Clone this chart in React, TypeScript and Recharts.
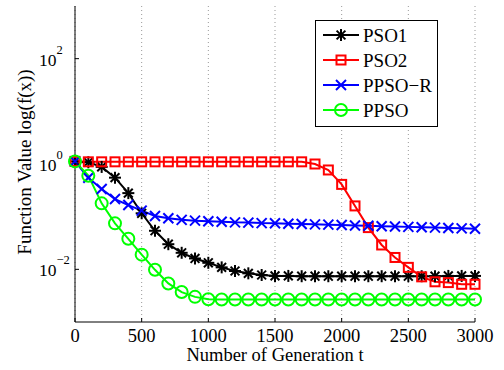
import { LineChart, Line, XAxis, YAxis, CartesianGrid, Legend } from "recharts";

const SERIF = "Liberation Serif, Times New Roman, serif";

// generations (x)
const GENS = [
  0, 100, 200, 300, 400, 500, 600, 700, 800, 900, 1000, 1100, 1200, 1300, 1400, 1500,
  1600, 1700, 1800, 1900, 2000, 2100, 2200, 2300, 2400, 2500, 2600, 2700, 2800, 2900, 3000,
];

const PSO1 = [
  1.12, 1.08, 0.88, 0.55, 0.28, 0.116, 0.054, 0.03, 0.0206, 0.0161, 0.0133, 0.0109, 0.0093,
  0.0084, 0.0078, 0.0075, 0.0075, 0.0074, 0.0074, 0.0074, 0.0074, 0.0074, 0.0074, 0.0074,
  0.0074, 0.0074, 0.0074, 0.0074, 0.0075, 0.0075, 0.0075,
];

const PSO2 = [
  1.12, 1.1, 1.1, 1.1, 1.1, 1.1, 1.1, 1.1, 1.1, 1.1, 1.1, 1.1, 1.1, 1.1, 1.1, 1.1, 1.1, 1.1,
  1.0, 0.77, 0.41, 0.16, 0.062, 0.029, 0.0168, 0.0109, 0.0072, 0.0058, 0.0056, 0.0052, 0.0052,
];

const PPSO_R = [
  1.12, 0.55, 0.335, 0.216, 0.166, 0.13, 0.103, 0.093, 0.087, 0.084, 0.082, 0.08, 0.078,
  0.0772, 0.0755, 0.0748, 0.0735, 0.0725, 0.0715, 0.0705, 0.0695, 0.068, 0.067, 0.066, 0.065,
  0.064, 0.063, 0.062, 0.061, 0.06, 0.059,
];

const PPSO = [
  1.12, 0.6, 0.179, 0.0746, 0.038, 0.019, 0.0098, 0.0054, 0.0037, 0.003, 0.0027, 0.00268,
  0.00268, 0.00268, 0.00268, 0.00268, 0.00268, 0.00268, 0.00268, 0.00268, 0.00268, 0.00268,
  0.00268, 0.00268, 0.00268, 0.00268, 0.00268, 0.00268, 0.00268, 0.00268, 0.00268,
];

const X_TICKS = [0, 500, 1000, 1500, 2000, 2500, 3000];
const Y_TICKS = [0.01, 1, 100];
const Y_DOMAIN = [0.001, 1000];

const data = GENS.map((g, i) => ({
  gen: g,
  pso1: PSO1[i],
  pso2: PSO2[i],
  ppsor: PPSO_R[i],
  ppso: PPSO[i],
}));

type Marker = "star" | "square" | "cross" | "circle";

const SERIES: { key: string; name: string; color: string; marker: Marker }[] = [
  { key: "pso1", name: "PSO1", color: "#000000", marker: "star" },
  { key: "pso2", name: "PSO2", color: "#ff0000", marker: "square" },
  { key: "ppsor", name: "PPSO\u2212R", color: "#0000ff", marker: "cross" },
  { key: "ppso", name: "PPSO", color: "#00ff00", marker: "circle" },
];

// plot box edges
const LEFT = 75;
const BOTTOM = 322;

function drawMarker(kind: Marker, cx: number, cy: number, color: string) {
  const sw = 2;
  if (kind === "star") {
    const a = 6, d = 4.4;
    return (
      <g stroke={color} strokeWidth={sw}>
        <line x1={cx - a} y1={cy} x2={cx + a} y2={cy} />
        <line x1={cx} y1={cy - a} x2={cx} y2={cy + a} />
        <line x1={cx - d} y1={cy - d} x2={cx + d} y2={cy + d} />
        <line x1={cx - d} y1={cy + d} x2={cx + d} y2={cy - d} />
      </g>
    );
  }
  if (kind === "square") {
    return <rect x={cx - 4.5} y={cy - 4.5} width={9} height={9} fill="none" stroke={color} strokeWidth={sw} />;
  }
  if (kind === "cross") {
    const d = 5;
    return (
      <g stroke={color} strokeWidth={sw}>
        <line x1={cx - d} y1={cy - d} x2={cx + d} y2={cy + d} />
        <line x1={cx - d} y1={cy + d} x2={cx + d} y2={cy - d} />
      </g>
    );
  }
  return <circle cx={cx} cy={cy} r={6} fill="none" stroke={color} strokeWidth={sw} />;
}

function expLabel(v: number) {
  const e = Math.round(Math.log10(v));
  return e < 0 ? "\u2212" + Math.abs(e) : String(e);
}

function BottomTick({ x, payload }: any) {
  return (
    <g>
      <line x1={x} x2={x} y1={BOTTOM} y2={BOTTOM - 4} stroke="#000" />
      <text x={x} y={BOTTOM + 20} textAnchor="middle" fontSize={18.5} fontFamily={SERIF} fill="#000">
        {payload.value}
      </text>
    </g>
  );
}

function TopTick({ x, y }: any) {
  return <line x1={x} x2={x} y1={y} y2={y + 4} stroke="#000" />;
}

function LeftTick({ y, payload }: any) {
  return (
    <g>
      <line x1={LEFT} x2={LEFT + 4} y1={y} y2={y} stroke="#000" />
      <text x={39} y={y + 7} fontSize={17.5} fontFamily={SERIF} fill="#000">
        <tspan>10</tspan>
        <tspan dy={-12} fontSize={12.5}>{expLabel(payload.value)}</tspan>
      </text>
    </g>
  );
}

function RightTick({ x, y }: any) {
  return <line x1={x} x2={x - 4} y1={y} y2={y} stroke="#000" />;
}

function LegendBox() {
  const rows = [15, 40, 65, 90];
  return (
    <svg width={123} height={107} style={{ display: "block" }}>
      <rect x={0.5} y={0.5} width={122} height={106} fill="#fff" stroke="#000" strokeWidth={1} />
      {SERIES.map((s, i) => (
        <g key={s.key}>
          <line x1={8} x2={44} y1={rows[i]} y2={rows[i]} stroke={s.color} strokeWidth={2} />
          {drawMarker(s.marker, 26, rows[i], s.color)}
          <text x={48} y={rows[i] + 6.5} fontSize={19} fontFamily={SERIF} fill="#000">
            {s.name}
          </text>
        </g>
      ))}
    </svg>
  );
}

export default function App() {
  return (
    <div style={{ position: "absolute", left: 0, top: 0, width: 504, height: 370, background: "#fff", fontFamily: SERIF }}>
      <LineChart width={504} height={370} data={data} margin={{ top: 6, right: 29, bottom: 0, left: 0 }}>
        <CartesianGrid horizontal={false} stroke="#999" strokeDasharray="1 3" />
        <XAxis
          dataKey="gen"
          type="number"
          domain={[0, 3000]}
          ticks={X_TICKS}
          interval={0}
          height={48}
          tickSize={0}
          tickMargin={0}
          tickLine={false}
          axisLine={{ stroke: "#000" }}
          tick={<BottomTick />}
        />
        <XAxis
          xAxisId="top"
          orientation="top"
          dataKey="gen"
          type="number"
          domain={[0, 3000]}
          ticks={X_TICKS}
          interval={0}
          height={0}
          tickSize={0}
          tickLine={false}
          axisLine={{ stroke: "#000" }}
          tick={<TopTick />}
        />
        <YAxis
          type="number"
          scale="log"
          domain={Y_DOMAIN}
          allowDataOverflow
          ticks={Y_TICKS}
          interval={0}
          width={75}
          tickSize={0}
          tickMargin={0}
          tickLine={false}
          axisLine={{ stroke: "#000" }}
          tick={<LeftTick />}
        />
        <YAxis
          yAxisId="right"
          orientation="right"
          type="number"
          scale="log"
          domain={Y_DOMAIN}
          allowDataOverflow
          ticks={Y_TICKS}
          interval={0}
          width={0}
          tickSize={0}
          tickLine={false}
          axisLine={{ stroke: "#000" }}
          tick={<RightTick />}
        />
        {SERIES.map((s) => (
          <Line
            key={s.key}
            dataKey={s.key}
            name={s.name}
            stroke={s.color}
            strokeWidth={2}
            isAnimationActive={false}
            dot={(p: any) => (
              <g key={`${s.key}-${p.index}`}>{drawMarker(s.marker, p.cx, p.cy, s.color)}</g>
            )}
          />
        ))}
        <Legend
          layout="vertical"
          align="center"
          verticalAlign="middle"
          wrapperStyle={{ left: 315, top: 20, width: 123, height: 107 }}
          content={() => <LegendBox />}
        />
      </LineChart>
      <svg width={504} height={370} style={{ position: "absolute", left: 0, top: 0, pointerEvents: "none" }}>
        <text x={275} y={361} textAnchor="middle" fontSize={18.5} fontFamily={SERIF} fill="#000">
          Number of Generation t
        </text>
        <text
          x={0}
          y={0}
          transform="translate(31,162) rotate(-90)"
          textAnchor="middle"
          fontSize={19}
          fontFamily={SERIF}
          fill="#000"
        >
          Function Value log(f(x))
        </text>
      </svg>
    </div>
  );
}
